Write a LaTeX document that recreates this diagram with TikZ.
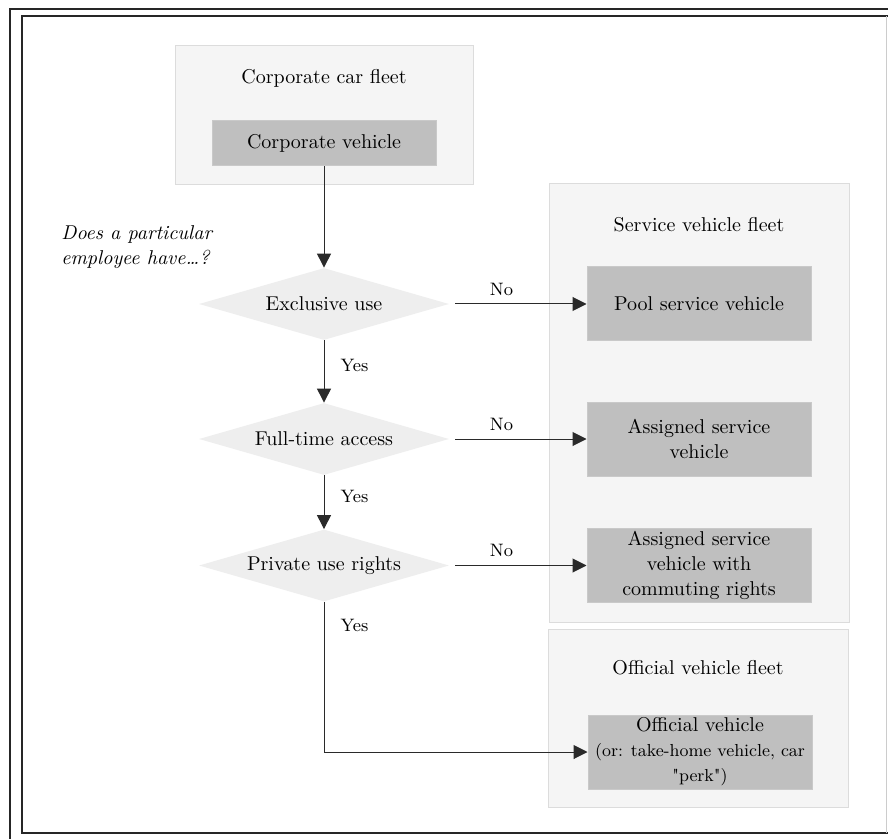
\documentclass[tikz,border=0pt]{standalone}
\usetikzlibrary{shapes.geometric,arrows.meta}
\definecolor{fleetfill}{HTML}{F5F5F5}
\definecolor{fleetdraw}{HTML}{DCDCDC}
\definecolor{vehfill}{HTML}{BFBFBF}
\definecolor{vehdraw}{HTML}{C9C9C9}
\definecolor{decfill}{HTML}{EEEEEE}
\definecolor{linec}{HTML}{2A2A2A}
\begin{document}
\begin{tikzpicture}[x=0.5pt,y=-0.5pt,
  fleet/.style={draw=fleetdraw,fill=fleetfill,line width=0.5pt,inner sep=0pt},
  veh/.style={draw=vehdraw,fill=vehfill,line width=0.5pt,inner sep=1pt,align=center,
    minimum width=112pt,minimum height=37pt,font=\fontsize{10}{12.5}\selectfont},
  title/.style={inner sep=0pt},
  decision/.style={shape=diamond,fill=decfill,draw=none,aspect=3.47,inner sep=0pt,
    minimum width=125pt,minimum height=36pt},
  conn/.style={draw=linec,line width=0.5pt,-{Triangle[length=7pt,width=7pt]}},
  lab/.style={inner sep=1pt,font=\fontsize{9}{11}\selectfont}]
\useasboundingbox (0,0) rectangle (888,839);
\fill[white] (0,0) rectangle (888,839);
% frame
\draw[line width=1pt,black!85] (10,839) -- (10,9) -- (888,9);
\draw[line width=1pt,black!85] (888,833) -- (22,833) -- (22,16) -- (888,16);
\draw[line width=0.5pt,black!20] (886,16) -- (886,833);
% corporate fleet
\node[fleet,minimum width=149pt,minimum height=69.5pt] (corpfleet) at (324,115.5) {};
\node[title] (corptitle) at (324,78) {Corporate car fleet};
\node[veh,minimum height=22.5pt] (corpveh) at (324,143.5) {Corporate vehicle};
% question
\node[inner sep=0pt,align=left,anchor=west,font=\itshape\fontsize{10}{12.5}\selectfont] (question) at (61,247) {Does a particular\\employee have\ldots?};
% service fleet
\node[fleet,minimum width=150pt,minimum height=219pt] (servfleet) at (699,403) {};
\node[title] (servtitle) at (699,225) {Service vehicle fleet};
\node[veh] (pool) at (699,304) {Pool service vehicle};
\node[veh] (assigned) at (699,439) {Assigned service\\vehicle};
\node[veh] (commute) at (699,565.5) {Assigned service\\vehicle with\\commuting rights};
% official fleet
\node[fleet,minimum width=150pt,minimum height=89pt] (offfleet) at (698,718) {};
\node[title] (offtitle) at (698,668) {Official vehicle fleet};
\node[veh] (official) at (700,752) {Official vehicle\\{\fontsize{8.7}{12.5}\selectfont(or: take-home vehicle, car}\\{\fontsize{8.7}{12.5}\selectfont\textquotedbl perk\textquotedbl)}};
% decisions
\node[decision] (d1) at (324,304) {Exclusive use};
\node[decision] (d2) at (324,439) {Full-time access};
\node[decision] (d3) at (324,565.5) {Private use rights};
% connectors
\draw[conn] (corpveh.south) -- (d1.north);
\draw[conn] (d1.south) -- node[lab,right=7pt,pos=0.4] {Yes} (d2.north);
\draw[conn] (d2.south) -- node[lab,right=7pt,pos=0.4] {Yes} (d3.north);
\draw[conn,shorten <=3pt] (d1.east) -- node[lab,above=3pt,pos=0.38] {No} (pool.west);
\draw[conn,shorten <=3pt] (d2.east) -- node[lab,above=3pt,pos=0.38] {No} (assigned.west);
\draw[conn,shorten <=3pt] (d3.east) -- node[lab,above=3pt,pos=0.38] {No} (commute.west);
\draw[conn] (d3.south) |- node[lab,right=7pt,pos=0.08] {Yes} (official.west);
\end{tikzpicture}
\end{document}
